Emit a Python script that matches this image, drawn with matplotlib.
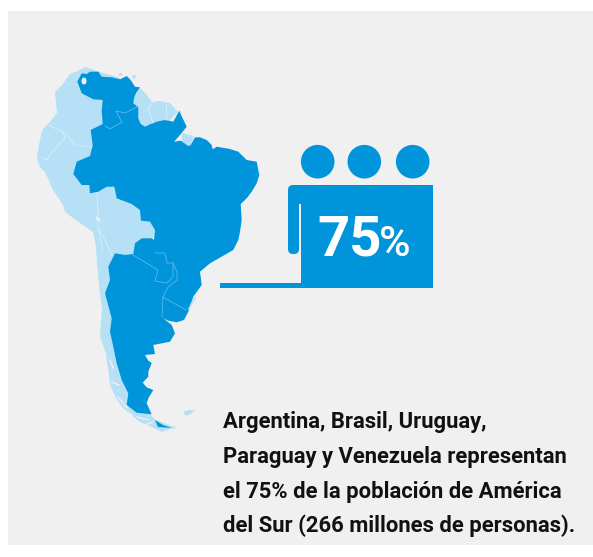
import matplotlib
matplotlib.use("Agg")
import matplotlib.pyplot as plt
from matplotlib.patches import Circle, Ellipse, FancyBboxPatch, Polygon, Rectangle

DARK = "#0095db"
LIGHT = "#b5e0f5"
BG = "#f0f0f0"

# map outlines in pixels
continent = [(85, 67), (78, 71), (70, 74), (62, 85), (55, 92), (57, 113), (50, 122), (42, 130), (39, 145),
             (37, 158), (40, 167), (45, 172), (53, 190), (63, 205), (65, 212), (80, 223), (93, 232), (96, 247),
             (97, 263), (99, 285), (102, 310), (100, 337), (106, 353), (107, 363), (109, 375), (110, 385), (116, 398),
             (122, 407), (130, 414), (140, 422), (152, 427), (162, 432), (170, 429), (177, 428), (156, 420),
             (140, 405), (130, 350), (130, 300), (158, 225), (160, 130), (178, 112), (170, 103), (160, 101),
             (152, 102), (146, 94), (140, 88), (133, 100), (120, 78), (100, 72)]
guiana = [(182, 133), (194, 136), (190, 146), (182, 143)]
falklands = [(183, 412), (189, 410), (195, 410), (192, 413), (186, 416)]
islands = [[(119, 73), (122, 73), (122, 76), (119, 76)], [(133, 75), (136, 75), (135, 79), (132, 78)]]
dark_outline = [(77.3, 81.7), (81.7, 73.3), (86.7, 74), (90, 71.7), (98.3, 71.7), (101.7, 76.7), (111.7, 77.3),
                (120, 79.3), (126.7, 76), (130.7, 80), (135, 86.7), (140, 87.3), (136, 93.3), (134, 98.3),
                (133.3, 103.3), (138.3, 107.3), (138.3, 118.3), (140.7, 124), (145, 126.7), (150.7, 124),
                (156.7, 121.7), (165, 120), (173.3, 121.7), (179.3, 110.7), (182.7, 118.3), (186.7, 126.7),
                (180, 135), (174, 141.7), (180.7, 140.7), (188.3, 146), (190.7, 145), (195, 137.3), (200, 137.3),
                (206.7, 140), (211.7, 145), (212.7, 149.3), (216.7, 146.7), (230, 149), (238.3, 151.7), (246.7, 160),
                (256.7, 161.7), (259.3, 175), (256.7, 183.3), (251.7, 191.7), (246.7, 198.3), (240.7, 204),
                (241.7, 220), (240, 231.7), (238.3, 240), (233.3, 250), (210, 263.3), (200, 271.7), (201.7, 285),
                (193.3, 296.7), (188.3, 311.7), (184, 320), (176.7, 322.3), (168.3, 320.7), (163.3, 318.3),
                (171.7, 325), (175, 333.3), (170, 341.7), (153.3, 345), (155, 354), (145, 355), (148.3, 360.7),
                (151.7, 363), (148.3, 371.7), (148.3, 376.7), (142.7, 382.7), (146.7, 387.3), (153.3, 390),
                (148.3, 398.3), (146.7, 403.3), (151.7, 414.3), (136.7, 412.7), (126.7, 405), (128.3, 393.3),
                (121.7, 380), (116.7, 363.3), (113.3, 346.7), (110, 331.7), (111.7, 318.3), (105, 293.3), (110, 280),
                (108.3, 266.7), (115, 253.3), (125, 255), (133.3, 254), (135, 243.3), (141.7, 238.3), (151.7, 238.3),
                (154, 240), (155, 230), (150, 221.7), (141, 220.7), (140, 210), (131.7, 204), (116.7, 198.3),
                (114.3, 186.7), (106.7, 186.7), (98.3, 191.7), (90, 193.3), (89.3, 185), (81.7, 185), (73.3, 174),
                (76.7, 161.7), (90, 156), (92.7, 145), (90.7, 130), (102.7, 124), (101.7, 110), (102.7, 100),
                (93.3, 99.3), (81.7, 93.3), (79.3, 86.7)]
fuego = [(155, 420), (163, 425), (172, 428), (158, 427)]

dark_borders = [
    [(105, 126), (110, 129), (122, 122), (116, 111), (125, 113), (137, 107)],
    [(133, 255), (158, 270), (155, 281), (167, 283), (173, 277), (173, 263), (167, 263), (165, 253), (155, 253)],
    [(173, 263), (177, 272), (177, 280), (168, 287), (163, 297)],
    [(163, 297), (186, 310)],
    [(163, 297), (162, 317)],
]
light_borders = [
    [(48, 125), (63, 132), (65, 138), (52, 152), (47, 160), (42, 157)],
    [(65, 133), (75, 145), (88, 147), (92, 147)],
    [(97, 193), (98, 210), (98, 227), (103, 250)],
    [(100, 230), (112, 255)],
    [(153, 102), (148, 108), (153, 123)],
    [(166, 103), (167, 120)],
]
fjords = [[(110, 360), (113, 368)], [(112, 382), (119, 385)], [(118, 397), (123, 403)], [(137, 417), (148, 420)],
          [(145, 425), (153, 422)], [(127, 412), (132, 415)], [(124, 405), (128, 408)], [(140, 425), (146, 427)]]
plata = [(189, 309), (192, 303), (195, 298)]

# icon circles centres
head_x = [317.7, 364.3, 412.7]

text_lines = ["Argentina, Brasil, Uruguay,",
              "Paraguay y Venezuela representan",
              "el 75% de la población de América",
              "del Sur (266 millones de personas)."]
baselines = [428, 463, 498, 532]


def main():
    fig = plt.figure(figsize=(5.93, 5.57), dpi=100, facecolor="white")
    ax = fig.add_axes([0, 0, 1, 1])
    ax.set_xlim(0, 593)
    ax.set_ylim(557, 0)
    ax.axis("off")

    ax.add_patch(Rectangle((8, 11), 585, 534, color=BG, lw=0))

    # map
    ax.add_patch(Polygon(continent, color=LIGHT, lw=0))
    for shape in [guiana, falklands] + islands:
        ax.add_patch(Polygon(shape, color=LIGHT, lw=0))
    ax.add_patch(Polygon(dark_outline, color=DARK, lw=0))
    ax.add_patch(Polygon(fuego, color=DARK, lw=0))
    ax.add_patch(Ellipse((84, 81), 5, 7, color=BG, lw=0))
    ax.add_patch(Ellipse((98, 219), 6, 3, angle=40, color=BG, lw=0))
    for b in dark_borders:
        ax.plot(*zip(*b), color="#5db8e8", lw=0.6)
    for b in light_borders:
        ax.plot(*zip(*b), color="#daf0fa", lw=0.6)
    for b in fjords:
        ax.plot(*zip(*b), color=BG, lw=1.0)
    ax.plot(*zip(*plata), color=LIGHT, lw=1.2)

    # icon
    for x in head_x:
        ax.add_patch(Circle((x, 161.7), 16.8, color=DARK, lw=0))
    ax.add_patch(FancyBboxPatch((293, 190), 1, 59, boxstyle="round,pad=5", color=DARK, lw=0))
    ax.add_patch(FancyBboxPatch((297, 193), 20, 10, boxstyle="round,pad=8", color=DARK, lw=0))
    ax.add_patch(Rectangle((299, 204), 2, 60, color=BG, lw=0))
    ax.add_patch(Rectangle((301, 185), 131.7, 102.7, color=DARK, lw=0))
    ax.add_patch(Rectangle((220, 282.7), 90, 5, color=DARK, lw=0))

    ax.text(317, 256, "75", color="white", fontsize=40.5, fontweight="bold", family="Roboto", va="baseline")
    ax.text(379, 256, "%", color="white", fontsize=31, family="Roboto", fontweight="medium", va="baseline")

    for line, y in zip(text_lines, baselines):
        ax.text(223, y, line, color="#111111", fontsize=15.85, fontweight="bold", family="Roboto", va="baseline")

    fig.savefig("out.png", dpi=100, facecolor="white")
    plt.close(fig)


if __name__ == "__main__":
    main()
